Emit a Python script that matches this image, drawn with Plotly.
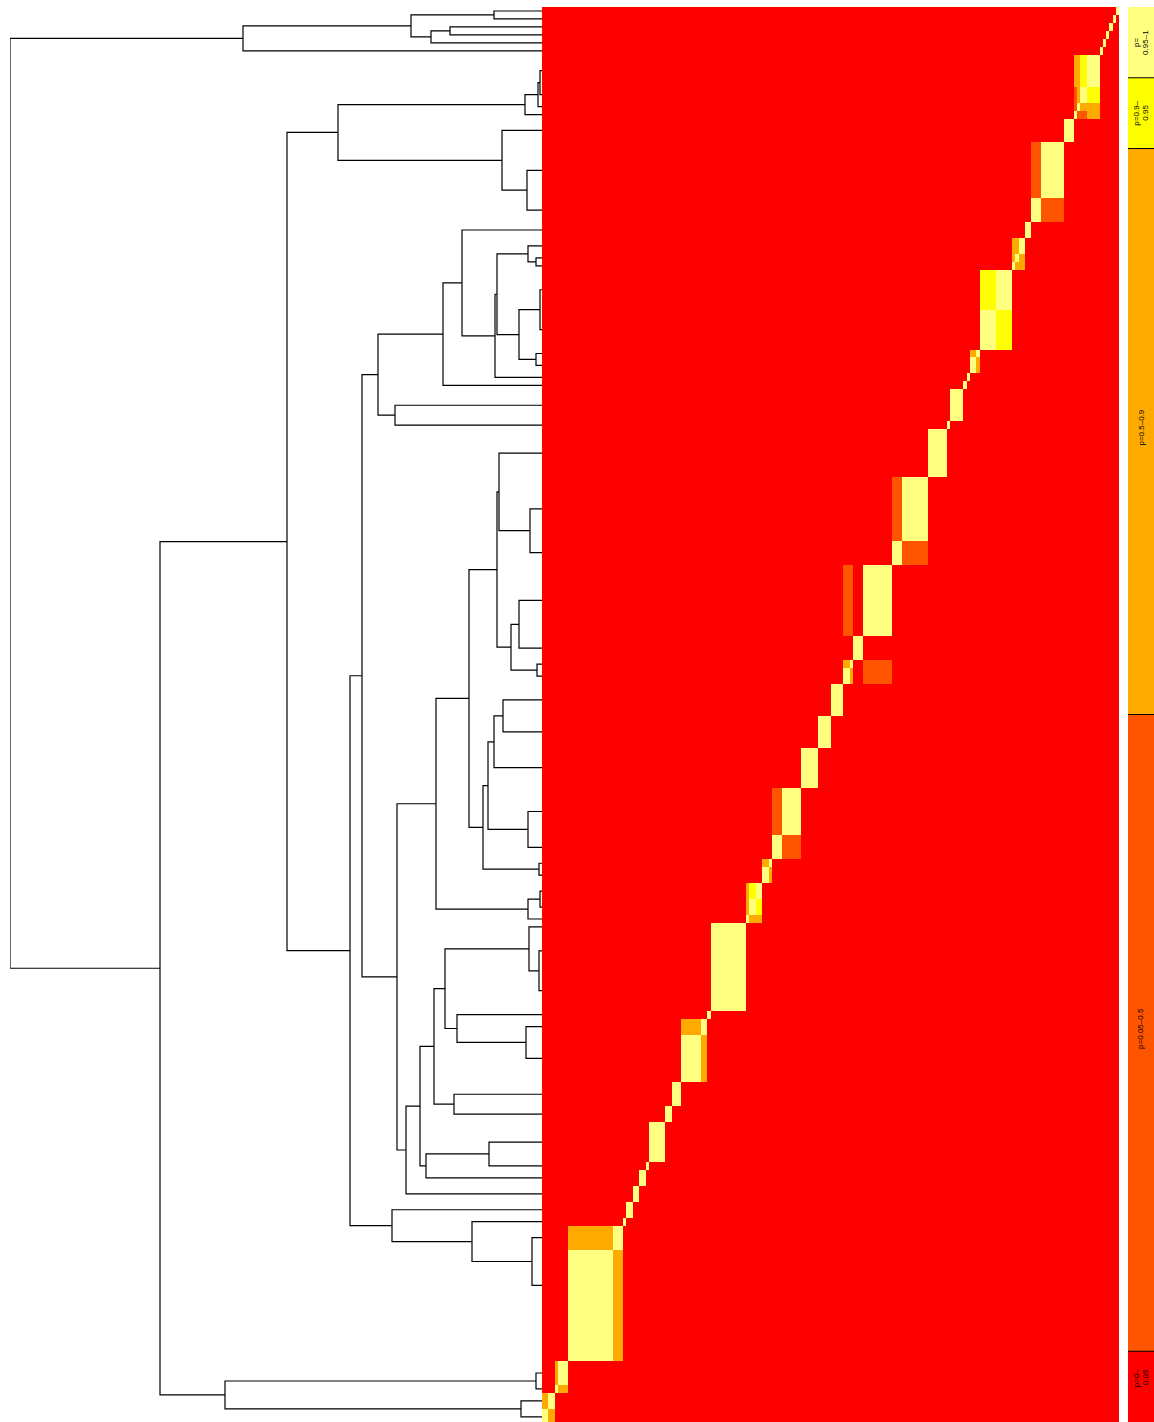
import plotly.graph_objects as go

# ---------------- data ----------------
# leaves of the clustering, listed from top to bottom, with their sizes (row height units)
leaf_names = ["T1", "T2", "T3", "T4", "T5", "T6", "T7", "T8", "T9", "T10",
              "T11", "T12", "T13", "T14", "T15", "T16", "T17", "T18", "T19", "T20",
              "T21", "T22", "T23", "T24", "T25", "T26", "T27", "T28", "T29", "T30",
              "T31", "T32", "T33", "T34", "T35", "T36", "T37", "T38", "T39", "T40",
              "T41", "T42", "T43a", "T43b", "T43c", "T44", "T45", "T46", "T47", "T48",
              "T49", "T50", "T51", "T52", "T53", "T54", "T55", "T56a", "T56b", "T57",
              "T58", "T59", "T60"]
leaf_units = [1, 1, 1, 1, 1, 1, 4, 2, 1, 1,
              3, 7, 3, 2, 2, 1, 1, 5, 5, 1,
              2, 1, 1, 4, 1, 6, 8, 3, 9, 3,
              1, 2, 4, 4, 5, 6, 3, 1, 2, 2,
              2, 1, 1, 5, 5, 1, 2, 6, 3, 2,
              5, 1, 2, 2, 2, 1, 3, 2, 12, 3,
              1, 2, 2]

# off-diagonal pairs that are not in the lowest class (symmetric)
# level: 1 = p 0.05-0.5, 2 = p 0.5-0.9, 3 = p 0.9-0.95, 4 = p 0.95-1
pair_a = ["T7", "T7", "T7", "T8", "T8", "T9", "T12", "T15", "T15", "T16",
          "T18", "T20", "T27", "T29", "T29", "T31", "T36", "T38", "T40", "T40",
          "T41", "T43a", "T43a", "T43b", "T45", "T55", "T55", "T56a", "T57", "T59"]
pair_b = ["T8", "T9", "T10", "T9", "T10", "T10", "T13", "T16", "T17", "T17",
          "T19", "T21", "T28", "T31", "T32", "T32", "T37", "T39", "T41", "T42",
          "T42", "T43b", "T43c", "T43c", "T46", "T56a", "T56b", "T56b", "T58", "T60"]
pair_level = [3, 2, 2, 2, 1, 1, 1, 2, 2, 2,
              3, 2, 1, 1, 1, 2, 1, 2, 3, 2,
              2, 4, 4, 4, 2, 2, 2, 4, 2, 2]

# dendrogram merges: node, left child, right child, merge height
merge_node = ["N494", "N450", "N431", "N411", "A", "N540t", "N538", "N525", "N527", "N502",
              "D", "N536a", "N528a", "N540a", "N536b", "N519a", "Y", "N495", "N462", "N443",
              "N395", "N378", "N530", "N499", "N537", "N519", "N511", "N498", "N503", "N494b",
              "N528b", "N488", "N539a", "N483", "N469", "N540b", "N528c", "N436", "N539b", "N529",
              "N526", "N457", "N445", "N454", "N434", "N489", "N426", "N420", "N406", "N397",
              "N362", "N56", "N532", "N472", "N392", "N350", "C", "N536c", "N521", "N225",
              "B", "root"]
merge_left = ["T1", "T3", "N450", "N494", "N411", "T7", "N540t", "N538", "T12", "T11",
              "N525", "T16", "T15", "T18", "T20", "N540a", "N528a", "Y", "T14", "N462",
              "T24", "N443", "T27", "T26", "T31", "T29", "N519", "N499", "T33", "N503",
              "T36", "N494b", "T38", "N488", "N498", "T40", "N540b", "N469", "T43b", "T43a",
              "T45", "T44", "N529", "T47", "N445", "T49", "N489", "N434", "N420", "N436",
              "N378", "T56a", "T55", "T54", "T53", "N362", "D", "T57", "T59", "N536c",
              "C", "A"]
merge_right = ["T2", "T4", "T5", "N431", "T6", "T8", "T9", "T10", "T13", "N527",
               "N502", "T17", "N536a", "T19", "T21", "N536b", "N519a", "T22", "N495", "T23",
               "T25", "N395", "T28", "N530", "T32", "T30", "N537", "N511", "T34", "T35",
               "T37", "N528b", "T39", "N539a", "N483", "T41", "T42", "N528c", "T43c", "N539b",
               "T46", "N526", "N457", "T48", "N454", "T50", "T51", "N426", "T52", "N406",
               "N397", "T56b", "N56", "N532", "N472", "N392", "N350", "T58", "T60", "N521",
               "N225", "B"]
merge_height = [48, 92, 111, 131, 299, 2, 4, 17, 15, 40,
                204, 6, 14, 2, 6, 23, 45, 47, 80, 99,
                147, 164, 12, 43, 5, 23, 31, 45, 39, 48,
                14, 54, 3, 59, 73, 2, 14, 106, 3, 13,
                16, 85, 97, 88, 108, 53, 116, 122, 136, 145,
                180, 0, 10, 70, 150, 192, 255, 6, 21, 317,
                382, 532]

legend_breaks = [0, 0.05, 0.5, 0.9, 0.95, 1]
legend_labels = [["p=0–", "0.05"], ["p=0.05–0.5"], ["p=0.5–0.9"], ["p=0.9–", "0.95"], ["p=", "0.95–1"]]
level_colors = ["#FF0000", "#FF5500", "#FFAA00", "#FFFF00", "#FFFF80"]

# ---------------- layout parameters ----------------
W, H = 1154, 1422
TOP_PX = 7
VISIBLE_UNITS = 177.65          # units visible between top of heatmap and bottom of window
DEND_X0, DEND_X1 = 10, 542
HM_X0, HM_X1 = 542, 1119
LEG_X0, LEG_X1 = 1128, 1154

n = len(leaf_names)
idx = {nm: i for i, nm in enumerate(leaf_names)}
total = sum(leaf_units)

# row edges from top
edges = [0]
for u in leaf_units:
    edges.append(edges[-1] + u)
centers = {nm: (edges[i] + edges[i + 1]) / 2 for i, nm in enumerate(leaf_names)}

# matrix
val = [[0] * n for _ in range(n)]
for i in range(n):
    val[i][i] = 4
for a, b, l in zip(pair_a, pair_b, pair_level):
    val[idx[a]][idx[b]] = l
    val[idx[b]][idx[a]] = l

col_order = list(range(n - 1, -1, -1))  # left-to-right = bottom-to-top
x_edges = [0]
for j in col_order:
    x_edges.append(x_edges[-1] + leaf_units[j])
z = [[val[i][j] for j in col_order] for i in range(n)]

cs = []
for k, c in enumerate(level_colors):
    cs.append([k / 5, c])
    cs.append([(k + 1) / 5, c])

fig = go.Figure()
fig.add_trace(go.Heatmap(z=z, x=x_edges, y=edges, xaxis="x2", yaxis="y",
                         colorscale=cs, zmin=-0.5, zmax=4.5, showscale=False,
                         zsmooth=False, hoverinfo="skip"))

# dendrogram
pos = dict(centers)
hgt = {nm: 0 for nm in leaf_names}
xs, ys = [], []
for nd, l, r, h in zip(merge_node, merge_left, merge_right, merge_height):
    yl, yr = pos[l], pos[r]
    pos[nd] = (yl + yr) / 2
    hgt[nd] = h
    if h > 0:
        xs += [hgt[l], h, h, hgt[r], None]
        ys += [yl, yl, yr, yr, None]
fig.add_trace(go.Scatter(x=xs, y=ys, mode="lines", xaxis="x", yaxis="y",
                         line=dict(color="black", width=1.2), hoverinfo="skip",
                         showlegend=False))

# legend bar
lz = [[k] for k in range(5)]
fig.add_trace(go.Heatmap(z=lz, x=[0, 1], y=legend_breaks, xaxis="x3", yaxis="y3",
                         colorscale=cs, zmin=-0.5, zmax=4.5, showscale=False,
                         zsmooth=False, hoverinfo="skip"))
shapes = []
for b in legend_breaks[1:-1]:
    shapes.append(dict(type="line", xref="x3", yref="y3", x0=0, x1=1, y0=b, y1=b,
                       line=dict(color="black", width=1)))
ann = []
for k, lines in enumerate(legend_labels):
    mid = (legend_breaks[k] + legend_breaks[k + 1]) / 2
    if len(lines) == 1:
        offs = [0]
    else:
        offs = [-4.5, 4.5]
    ys_shift = 9 if k == 0 else (4 if k in (1, 2) else 0)
    for line, o in zip(lines, offs):
        ann.append(dict(x=0.5, y=mid, xref="x3", yref="y3", text=line, showarrow=False,
                        textangle=-90, xshift=o, yshift=ys_shift,
                        font=dict(family="Liberation Sans, Arial", size=8, color="black")))

dom_y = [0, (H - TOP_PX) / H]
fig.update_layout(
    width=W, height=H, margin=dict(l=0, r=0, t=0, b=0),
    paper_bgcolor="white", plot_bgcolor="white", showlegend=False,
    xaxis=dict(domain=[DEND_X0 / W, DEND_X1 / W], range=[merge_height[-1], 0], visible=False),
    yaxis=dict(domain=dom_y, range=[VISIBLE_UNITS, 0], visible=False),
    xaxis2=dict(domain=[HM_X0 / W, HM_X1 / W], range=[0, total], anchor="y", visible=False),
    xaxis3=dict(domain=[LEG_X0 / W, LEG_X1 / W], range=[0, 1], anchor="y3", visible=False),
    yaxis3=dict(domain=dom_y, range=[0, 1], anchor="x3", visible=False),
    shapes=shapes, annotations=ann,
)
fig.write_html("out.html")
